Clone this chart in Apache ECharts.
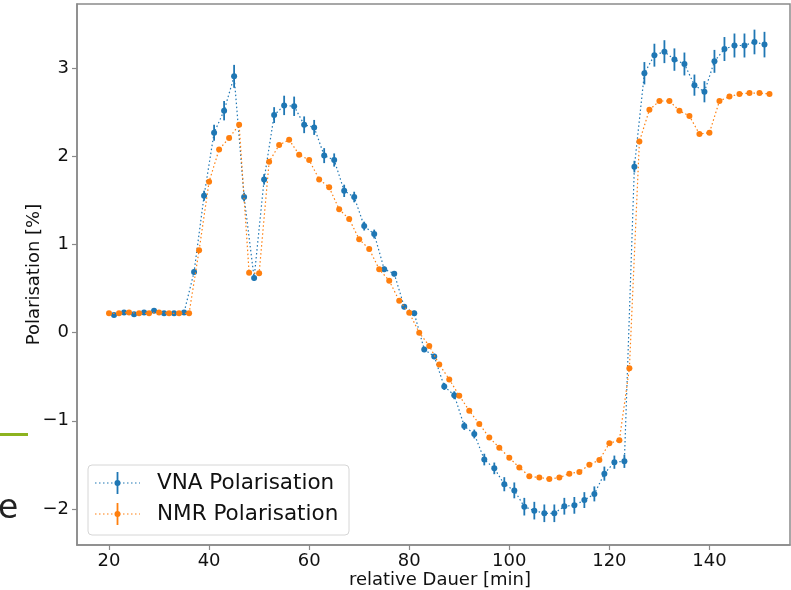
<!DOCTYPE html>
<html>
<head>
<meta charset="utf-8">
<script src="https://cdn.jsdelivr.net/npm/echarts@6/dist/echarts.min.js"></script>
<style>
html,body{margin:0;padding:0;background:#fff;}
#chart{width:791px;height:590px;}
</style>
</head>
<body>
<div id="chart"></div>
<script>
// ---- data ----
var vnaTime = [21,23,25,27,29,31,33,35,37,39,41,43,45,47,49,51,53,55,57,59,61,63,65,67,69,71,73,75,77,79,81,83,85,87,89,91,93,95,97,99,101,103,105,107,109,111,113,115,117,119,121,123,125,127,129,131,133,135,137,139,141,143,145,147,149,151];
var vnaPol = [0.20,0.23,0.21,0.23,0.25,0.22,0.22,0.23,0.69,1.555,2.27,2.52,2.91,1.54,0.62,1.74,2.47,2.58,2.57,2.36,2.33,2.01,1.96,1.61,1.54,1.21,1.12,0.72,0.67,0.295,0.22,-0.19,-0.27,-0.61,-0.71,-1.06,-1.15,-1.44,-1.54,-1.72,-1.79,-1.975,-2.02,-2.05,-2.05,-1.97,-1.96,-1.90,-1.83,-1.60,-1.47,-1.46,1.885,2.945,3.15,3.19,3.10,3.05,2.81,2.735,3.08,3.22,3.26,3.26,3.30,3.27];
var vnaErr = [0.02,0.02,0.02,0.02,0.02,0.02,0.02,0.02,0.03,0.057,0.09,0.11,0.13,0.05,0.03,0.06,0.09,0.11,0.11,0.095,0.085,0.085,0.075,0.07,0.06,0.05,0.05,0.03,0.03,0.03,0.03,0.03,0.03,0.04,0.045,0.045,0.05,0.066,0.066,0.08,0.09,0.1,0.1,0.1,0.1,0.095,0.095,0.09,0.085,0.08,0.075,0.075,0.066,0.127,0.13,0.13,0.127,0.13,0.12,0.12,0.13,0.136,0.136,0.136,0.14,0.145];
var nmrTime = [20,22,24,26,28,30,32,34,36,38,40,42,44,46,48,50,52,54,56,58,60,62,64,66,68,70,72,74,76,78,80,82,84,86,88,90,92,94,96,98,100,102,104,106,108,110,112,114,116,118,120,122,124,126,128,130,132,134,136,138,140,142,144,146,148,150,152];
var nmrPol = [0.22,0.22,0.23,0.22,0.22,0.23,0.22,0.22,0.22,0.935,1.714,2.08,2.21,2.36,0.68,0.674,1.94,2.13,2.19,2.02,1.96,1.74,1.65,1.40,1.29,1.06,0.95,0.72,0.59,0.363,0.227,0.0,-0.15,-0.36,-0.53,-0.715,-0.885,-1.036,-1.19,-1.305,-1.42,-1.53,-1.63,-1.645,-1.66,-1.645,-1.60,-1.58,-1.50,-1.445,-1.255,-1.22,-0.405,2.17,2.53,2.63,2.63,2.52,2.46,2.255,2.27,2.63,2.68,2.71,2.72,2.72,2.71];
var xTicks = [20,40,60,80,100,120,140];
var yTicks = [-2,-1,0,1,2,3];
var seriesNames = ['VNA Polarisation','NMR Polarisation'];
var xTitle = 'relative Dauer [min]';
var yTitle = 'Polarisation [%]';

// ---- build ----
var BLUE = '#1f77b4', ORANGE = '#ff7f0e', SPINE = '#8a8a8a';
var FONT = 'DejaVu Sans';
var vnaData = vnaTime.map(function(t,i){return [t, vnaPol[i]];});
var vnaErrData = vnaTime.map(function(t,i){return [t, vnaPol[i]-vnaErr[i], vnaPol[i]+vnaErr[i]];});
var nmrData = nmrTime.map(function(t,i){return [t, nmrPol[i]];});
function fmt(v){ return String(v).replace('-', '\u2212'); }

var chart = echarts.init(document.getElementById('chart'), null, {renderer:'canvas'});
var legX = 88, legY = 465;
chart.setOption({
  animation:false,
  backgroundColor:'#fff',
  grid:{left:77, right:1, top:4, bottom:45, show:true, borderColor:SPINE, borderWidth:1.5, backgroundColor:'transparent', containLabel:false, outerBoundsMode:'none'},
  xAxis:{
    type:'value', min:13.6, max:156.1,
    axisLine:{show:true, onZero:false, lineStyle:{color:SPINE, width:1.5}},
    axisTick:{show:true, customValues:xTicks, length:5, lineStyle:{color:SPINE, width:1.2}},
    axisLabel:{customValues:xTicks, fontSize:18, fontFamily:FONT, color:'#111', margin:7, formatter:fmt},
    splitLine:{show:false},
    name:xTitle, nameLocation:'middle', nameGap:26, nameMoveOverlap:false,
    nameTextStyle:{fontSize:18, fontFamily:FONT, color:'#111', padding:[0,0,0,13]}
  },
  yAxis:{
    type:'value', min:-2.41, max:3.731,
    axisLine:{show:true, onZero:false, lineStyle:{color:SPINE, width:1.5}},
    axisTick:{show:true, customValues:yTicks, length:5, lineStyle:{color:SPINE, width:1.2}},
    axisLabel:{customValues:yTicks, fontSize:18, fontFamily:FONT, color:'#111', margin:8, formatter:fmt},
    splitLine:{show:false},
    name:yTitle, nameLocation:'middle', nameGap:34, nameMoveOverlap:false,
    nameTextStyle:{fontSize:18, fontFamily:FONT, color:'#111'}
  },
  series:[
    {
      type:'custom', name:seriesNames[0]+' err', data:vnaErrData, z:2,
      renderItem:function(params, api){
        var p1 = api.coord([api.value(0), api.value(1)]);
        var p2 = api.coord([api.value(0), api.value(2)]);
        return {type:'line', shape:{x1:p1[0], y1:p1[1], x2:p2[0], y2:p2[1]}, style:{stroke:BLUE, lineWidth:1.8}};
      },
      encode:{x:0, y:[1,2]}, silent:true
    },
    {
      type:'line', name:seriesNames[0], data:vnaData, z:3,
      symbol:'circle', symbolSize:6, showAllSymbol:true,
      itemStyle:{color:BLUE}, lineStyle:{color:BLUE, width:1.2, type:[1.5,2.5]}
    },
    {
      type:'line', name:seriesNames[1], data:nmrData, z:4,
      symbol:'circle', symbolSize:6, showAllSymbol:true,
      itemStyle:{color:ORANGE}, lineStyle:{color:ORANGE, width:1.2, type:[1.5,2.5]}
    }
  ],
  graphic:[
    {type:'rect', shape:{x:legX, y:legY, width:261, height:70, r:4}, style:{fill:'rgba(255,255,255,0.85)', stroke:'#d6d6d6', lineWidth:1}, z:100},
    {type:'line', shape:{x1:95, y1:483, x2:140, y2:483}, style:{stroke:BLUE, lineWidth:1.2, lineDash:[1.5,2.5]}, z:101},
    {type:'line', shape:{x1:117.5, y1:472, x2:117.5, y2:494}, style:{stroke:BLUE, lineWidth:1.8}, z:101},
    {type:'circle', shape:{cx:117.5, cy:483, r:3}, style:{fill:BLUE}, z:102},
    {type:'text', x:157, y:483, style:{text:seriesNames[0], font:'21.5px "DejaVu Sans"', fill:'#111', verticalAlign:'middle', align:'left'}, z:102},
    {type:'line', shape:{x1:95, y1:514, x2:140, y2:514}, style:{stroke:ORANGE, lineWidth:1.2, lineDash:[1.5,2.5]}, z:101},
    {type:'line', shape:{x1:117.5, y1:503, x2:117.5, y2:525}, style:{stroke:ORANGE, lineWidth:1.8}, z:101},
    {type:'circle', shape:{cx:117.5, cy:514, r:3}, style:{fill:ORANGE}, z:102},
    {type:'text', x:157, y:514, style:{text:seriesNames[1], font:'21.5px "DejaVu Sans"', fill:'#111', verticalAlign:'middle', align:'left'}, z:102},
    {type:'line', shape:{x1:0, y1:434.5, x2:28, y2:434.5}, style:{stroke:'#8db31f', lineWidth:3}, z:100},
    {type:'text', x:-2, y:509, style:{text:'e', font:'33px "DejaVu Sans"', fill:'#222', verticalAlign:'middle', align:'left'}, z:100}
  ]
});
</script>
</body>
</html>
